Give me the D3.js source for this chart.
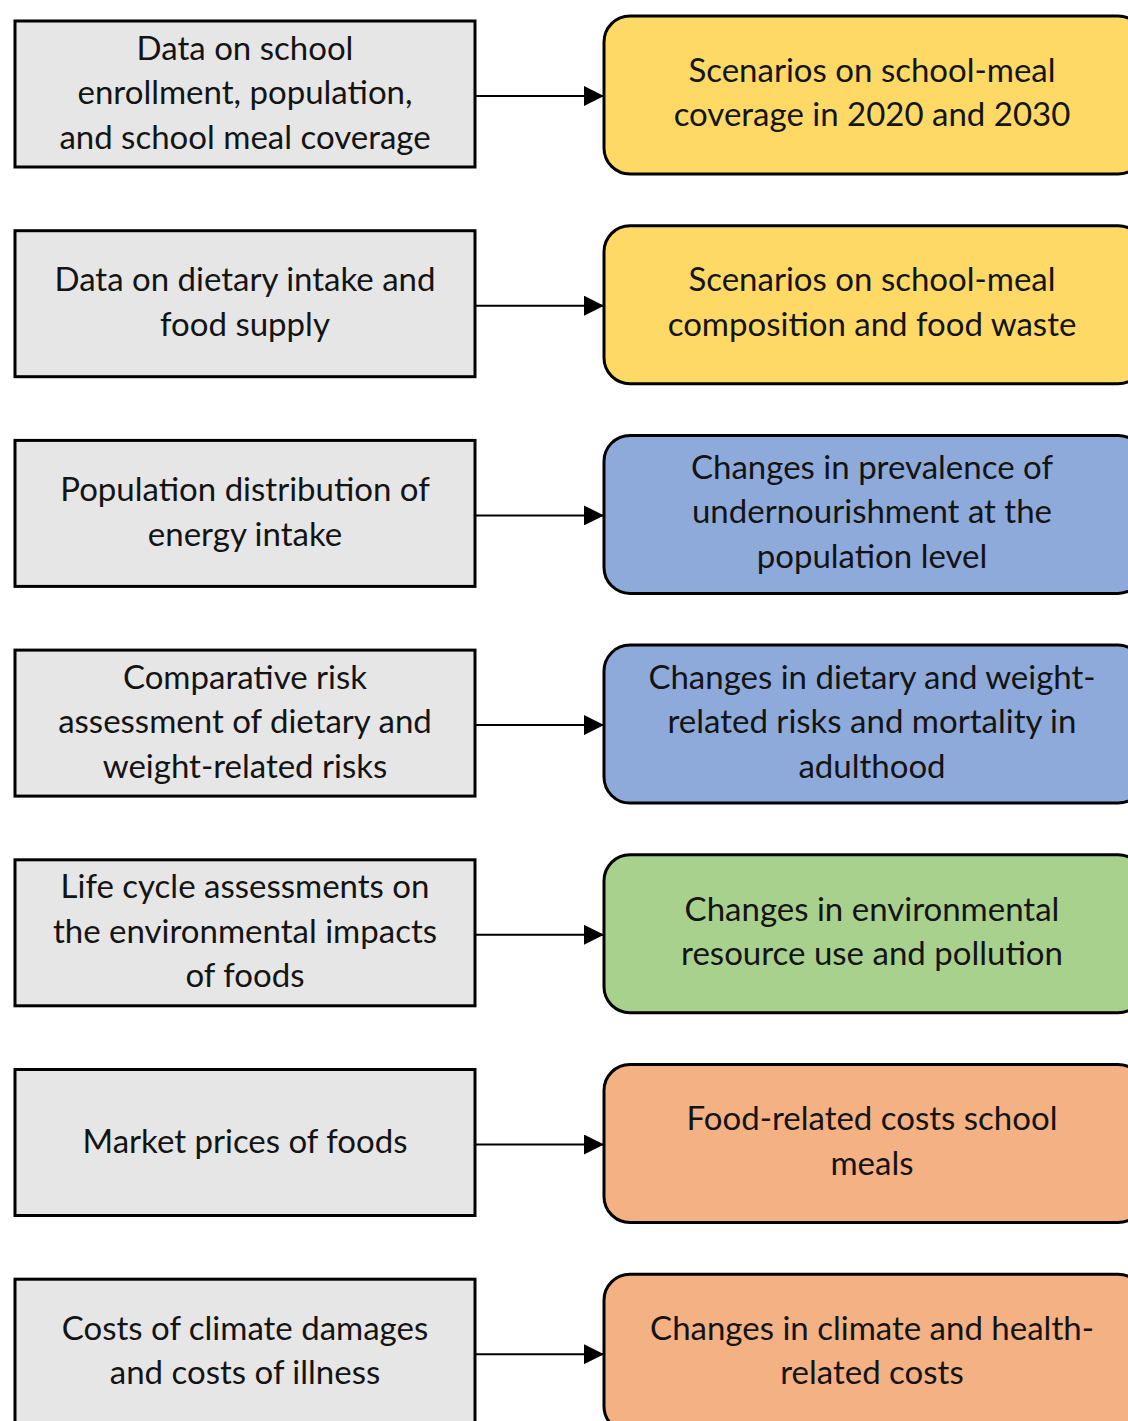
<!DOCTYPE html>
<html>
<head>
<meta charset="utf-8">
<script src="https://cdn.jsdelivr.net/npm/d3@7"></script>
<style>
  html, body { margin: 0; padding: 0; background: #fff; }
  svg { display: block; }
  text { font-family: Lato, "Open Sans", sans-serif; fill: #141414; }
</style>
</head>
<body>
<div id="chart"></div>
<script>
// input boxes (left column), line breaks as in the figure
const inputs = [
    'Data on school\nenrollment, population,\nand school meal coverage',
    'Data on dietary intake and\nfood supply',
    'Population distribution of\nenergy intake',
    'Comparative risk\nassessment of dietary and\nweight-related risks',
    'Life cycle assessments on\nthe environmental impacts\nof foods',
    'Market prices of foods',
    'Costs of climate damages\nand costs of illness'
];

// output boxes (right column)
const outputs = [
    'Scenarios on school-meal\ncoverage in 2020 and 2030',
    'Scenarios on school-meal\ncomposition and food waste',
    'Changes in prevalence of\nundernourishment at the\npopulation level',
    'Changes in dietary and weight-\nrelated risks and mortality in\nadulthood',
    'Changes in environmental\nresource use and pollution',
    'Food-related costs school\nmeals',
    'Changes in climate and health-\nrelated costs'
];

const outputGroup = ['scenario', 'scenario', 'health', 'health', 'environment', 'cost', 'cost'];

const groupColors = {
    scenario: '#ffd966',
    health: '#8eaadb',
    environment: '#a9d18e',
    cost: '#f4b183'
};

const width = 1128, height = 1421;

const svg = d3.select('#chart').append('svg')
    .attr('width', width)
    .attr('height', height);

svg.append('defs').append('marker')
    .attr('id', 'arrow')
    .attr('viewBox', '0 0 10 10')
    .attr('refX', 10).attr('refY', 5)
    .attr('markerWidth', 20).attr('markerHeight', 20)
    .attr('markerUnits', 'userSpaceOnUse')
    .attr('orient', 'auto')
    .append('path')
    .attr('d', 'M0,0 L10,5 L0,10 Z')
    .attr('fill', '#000');

// row index -> top of the left box
const y = d3.scaleLinear()
    .domain([0, 1])
    .range([21, 21 + 209.7]);
const boxH = 146;

const leftX = 15, leftW = 460;
const rightX = 604, rightW = 540;
const lineH = 44.5;

const rows = svg.selectAll('g.row')
    .data(inputs.map((d, i) => ({ input: d, output: outputs[i], group: outputGroup[i], i })))
    .enter().append('g')
    .attr('class', 'row');

rows.append('rect')
    .attr('x', leftX)
    .attr('y', d => y(d.i))
    .attr('width', leftW)
    .attr('height', boxH)
    .attr('fill', '#e6e6e6')
    .attr('stroke', '#000')
    .attr('stroke-width', 3);

rows.append('rect')
    .attr('x', rightX)
    .attr('y', d => y(d.i) - 5)
    .attr('width', rightW)
    .attr('height', boxH + 12)
    .attr('rx', 26)
    .attr('fill', d => groupColors[d.group])
    .attr('stroke', '#000')
    .attr('stroke-width', 3);

rows.append('line')
    .attr('x1', leftX + leftW)
    .attr('x2', rightX)
    .attr('y1', d => y(d.i) + boxH / 2 + 2)
    .attr('y2', d => y(d.i) + boxH / 2 + 2)
    .attr('stroke', '#000')
    .attr('stroke-width', 2)
    .attr('marker-end', 'url(#arrow)');

function addLabel(sel, cx, cyFn, key) {
    sel.append('text')
        .attr('text-anchor', 'middle')
        .style('font-size', '33px')
        .each(function(d) {
            const lines = d[key].split('\n');
            const cy = cyFn(d);
            const t = d3.select(this);
            lines.forEach((ln, k) => {
                t.append('tspan')
                    .attr('x', cx)
                    .attr('y', cy + (k - (lines.length - 1) / 2) * lineH + 11)
                    .text(ln);
            });
        });
}

addLabel(rows, leftX + leftW / 2, d => y(d.i) + boxH / 2 - 1, 'input');
addLabel(rows, 872, d => y(d.i) + boxH / 2 - 1, 'output');
</script>
</body>
</html>
